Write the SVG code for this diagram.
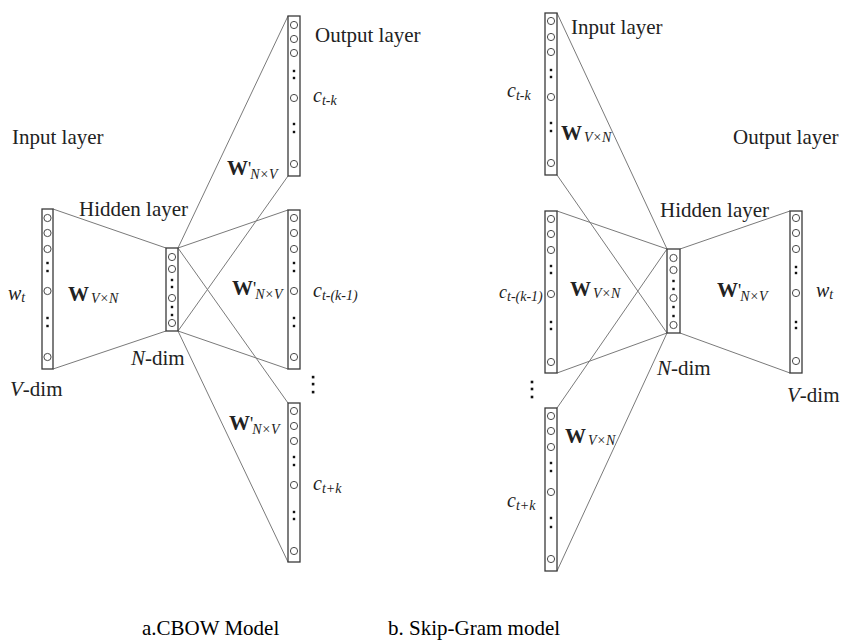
<svg xmlns="http://www.w3.org/2000/svg" width="844" height="643" viewBox="0 0 844 643">
<style>
.col{fill:#fff;stroke:#3a3a3a;stroke-width:1.3}
.nd{fill:#fff;stroke:#4a4a4a;stroke-width:1}
.dt{fill:#111}
.ln{stroke:#7a7a7a;stroke-width:1;fill:none}
.t{font-family:"Liberation Serif","Times New Roman",serif;font-size:21px;fill:#222}
.bw{font-weight:bold}
.it{font-style:italic}
.sub{font-style:italic;font-size:14px}
.cap{font-family:"Liberation Serif","Times New Roman",serif;font-size:21px;fill:#000}
</style>
<rect width="844" height="643" fill="#fff"/>
<g id="connectors">
<line class="ln" x1="53" y1="209" x2="166" y2="248"/>
<line class="ln" x1="53" y1="369" x2="166" y2="331"/>
<line class="ln" x1="178" y1="248" x2="288" y2="16"/>
<line class="ln" x1="178" y1="248" x2="288" y2="210"/>
<line class="ln" x1="178" y1="248" x2="288" y2="403"/>
<line class="ln" x1="178" y1="331" x2="288" y2="176"/>
<line class="ln" x1="178" y1="331" x2="288" y2="369"/>
<line class="ln" x1="178" y1="331" x2="288" y2="562"/>
<line class="ln" x1="557" y1="13" x2="667" y2="249"/>
<line class="ln" x1="557" y1="175" x2="667" y2="333"/>
<line class="ln" x1="557" y1="211" x2="667" y2="249"/>
<line class="ln" x1="557" y1="373" x2="667" y2="333"/>
<line class="ln" x1="557" y1="408" x2="667" y2="249"/>
<line class="ln" x1="557" y1="571" x2="667" y2="333"/>
<line class="ln" x1="680" y1="249" x2="790" y2="211"/>
<line class="ln" x1="680" y1="333" x2="790" y2="373"/>
</g>
<!-- CBOW -->
<g id="cbow-input">
<rect class="col" x="42" y="209" width="11" height="160"/>
<circle class="nd" cx="47.5" cy="218" r="3.6"/><circle class="nd" cx="47.5" cy="233" r="3.6"/><circle class="nd" cx="47.5" cy="249" r="3.6"/>
<rect class="dt" x="46.3" y="261.8" width="2.4" height="2.4"/><rect class="dt" x="46.3" y="269.8" width="2.4" height="2.4"/>
<circle class="nd" cx="47.5" cy="291" r="3.6"/>
<rect class="dt" x="46.3" y="316.8" width="2.4" height="2.4"/><rect class="dt" x="46.3" y="324.8" width="2.4" height="2.4"/>
<circle class="nd" cx="47.5" cy="357" r="3.6"/>
<text class="t" x="12" y="144">Input layer</text>
<text class="t" x="8" y="300"><tspan class="it" font-size="20">w</tspan><tspan class="sub" dy="2">t</tspan></text>
<text class="t" x="10" y="396"><tspan class="it">V</tspan>-dim</text>
<text class="t" x="68" y="301"><tspan class="bw">W</tspan><tspan class="sub" dx="2" dy="2">V×N</tspan></text>
</g>
<g id="cbow-hidden">
<rect class="col" x="166" y="248" width="12" height="83"/>
<circle class="nd" cx="172" cy="257" r="3.6"/><circle class="nd" cx="172" cy="269" r="3.6"/>
<rect class="dt" x="170.8" y="278.8" width="2.4" height="2.4"/><rect class="dt" x="170.8" y="285.8" width="2.4" height="2.4"/>
<circle class="nd" cx="172" cy="298" r="3.6"/>
<rect class="dt" x="170.8" y="305.8" width="2.4" height="2.4"/><rect class="dt" x="170.8" y="313.8" width="2.4" height="2.4"/>
<circle class="nd" cx="172" cy="323" r="3.6"/>
<text class="t" x="79" y="216">Hidden layer</text>
<text class="t" x="131" y="365"><tspan class="it">N</tspan>-dim</text>
</g>
<g id="cbow-output-1">
<rect class="col" x="288" y="16" width="12" height="160"/>
<circle class="nd" cx="294" cy="25" r="3.6"/><circle class="nd" cx="294" cy="39" r="3.6"/><circle class="nd" cx="294" cy="53" r="3.6"/>
<rect class="dt" x="292.8" y="69.8" width="2.4" height="2.4"/><rect class="dt" x="292.8" y="76.8" width="2.4" height="2.4"/>
<circle class="nd" cx="294" cy="98" r="3.6"/>
<rect class="dt" x="292.8" y="122.8" width="2.4" height="2.4"/><rect class="dt" x="292.8" y="130.8" width="2.4" height="2.4"/>
<circle class="nd" cx="294" cy="164" r="3.6"/>
<text class="t" x="315" y="42">Output layer</text>
<text class="t" x="313" y="102"><tspan class="it" font-size="20">c</tspan><tspan class="sub" dy="3">t-k</tspan></text>
<text class="t" x="227" y="175"><tspan class="bw">W</tspan><tspan font-size="18">'</tspan><tspan class="sub" dx="-1" dy="4">N×V</tspan></text>
</g>
<g id="cbow-output-2">
<rect class="col" x="288" y="210" width="12" height="159"/>
<circle class="nd" cx="294" cy="218" r="3.6"/><circle class="nd" cx="294" cy="233" r="3.6"/><circle class="nd" cx="294" cy="249" r="3.6"/>
<rect class="dt" x="292.8" y="261.8" width="2.4" height="2.4"/><rect class="dt" x="292.8" y="269.8" width="2.4" height="2.4"/>
<circle class="nd" cx="294" cy="291" r="3.6"/>
<rect class="dt" x="292.8" y="316.8" width="2.4" height="2.4"/><rect class="dt" x="292.8" y="324.8" width="2.4" height="2.4"/>
<circle class="nd" cx="294" cy="357" r="3.6"/>
<text class="t" x="313" y="297"><tspan class="it" font-size="20">c</tspan><tspan class="sub" dy="3">t-(k-1)</tspan></text>
<text class="t" x="232" y="295"><tspan class="bw">W</tspan><tspan font-size="18">'</tspan><tspan class="sub" dx="-1" dy="4">N×V</tspan></text>
</g>
<g id="cbow-ellipsis">
<rect class="dt" x="311.8" y="375.8" width="2.6" height="2.6"/><rect class="dt" x="311.8" y="382.8" width="2.6" height="2.6"/><rect class="dt" x="311.8" y="390.8" width="2.6" height="2.6"/>
</g>
<g id="cbow-output-3">
<rect class="col" x="288" y="403" width="12" height="159"/>
<circle class="nd" cx="294" cy="411" r="3.6"/><circle class="nd" cx="294" cy="426" r="3.6"/><circle class="nd" cx="294" cy="441" r="3.6"/>
<rect class="dt" x="292.8" y="455.8" width="2.4" height="2.4"/><rect class="dt" x="292.8" y="463.8" width="2.4" height="2.4"/>
<circle class="nd" cx="294" cy="485" r="3.6"/>
<rect class="dt" x="292.8" y="510.8" width="2.4" height="2.4"/><rect class="dt" x="292.8" y="517.8" width="2.4" height="2.4"/>
<circle class="nd" cx="294" cy="551" r="3.6"/>
<text class="t" x="313" y="490"><tspan class="it" font-size="20">c</tspan><tspan class="sub" dy="3">t+k</tspan></text>
<text class="t" x="229" y="430"><tspan class="bw">W</tspan><tspan font-size="18">'</tspan><tspan class="sub" dx="-1" dy="4">N×V</tspan></text>
</g>
<!-- Skip-gram -->
<g id="sg-input-1">
<rect class="col" x="545" y="13" width="12" height="162"/>
<circle class="nd" cx="551" cy="21" r="3.6"/><circle class="nd" cx="551" cy="37" r="3.6"/><circle class="nd" cx="551" cy="52" r="3.6"/>
<rect class="dt" x="549.8" y="68.8" width="2.4" height="2.4"/><rect class="dt" x="549.8" y="75.8" width="2.4" height="2.4"/>
<circle class="nd" cx="551" cy="97" r="3.6"/>
<rect class="dt" x="549.8" y="121.8" width="2.4" height="2.4"/><rect class="dt" x="549.8" y="129.8" width="2.4" height="2.4"/>
<circle class="nd" cx="551" cy="163" r="3.6"/>
<text class="t" x="571" y="34">Input layer</text>
<text class="t" x="507" y="97"><tspan class="it" font-size="20">c</tspan><tspan class="sub" dy="3">t-k</tspan></text>
<text class="t" x="561" y="140"><tspan class="bw">W</tspan><tspan class="sub" dx="2" dy="2">V×N</tspan></text>
</g>
<g id="sg-input-2">
<rect class="col" x="545" y="211" width="12" height="162"/>
<circle class="nd" cx="551" cy="219" r="3.6"/><circle class="nd" cx="551" cy="234" r="3.6"/><circle class="nd" cx="551" cy="250" r="3.6"/>
<rect class="dt" x="549.8" y="264.8" width="2.4" height="2.4"/><rect class="dt" x="549.8" y="271.8" width="2.4" height="2.4"/>
<circle class="nd" cx="551" cy="294" r="3.6"/>
<rect class="dt" x="549.8" y="320.8" width="2.4" height="2.4"/><rect class="dt" x="549.8" y="327.8" width="2.4" height="2.4"/>
<circle class="nd" cx="551" cy="362" r="3.6"/>
<text class="t" x="499" y="298"><tspan class="it" font-size="18">c</tspan><tspan class="sub" font-size="11.5" dy="3">t-(k-1)</tspan></text>
<text class="t" x="570" y="296"><tspan class="bw">W</tspan><tspan class="sub" dx="2" dy="2">V×N</tspan></text>
</g>
<g id="sg-ellipsis">
<rect class="dt" x="530.7" y="380.7" width="2.6" height="2.6"/><rect class="dt" x="530.7" y="387.7" width="2.6" height="2.6"/><rect class="dt" x="530.7" y="395.7" width="2.6" height="2.6"/>
</g>
<g id="sg-input-3">
<rect class="col" x="545" y="408" width="12" height="163"/>
<circle class="nd" cx="551" cy="416" r="3.6"/><circle class="nd" cx="551" cy="431" r="3.6"/><circle class="nd" cx="551" cy="447" r="3.6"/>
<rect class="dt" x="549.8" y="461.8" width="2.4" height="2.4"/><rect class="dt" x="549.8" y="469.8" width="2.4" height="2.4"/>
<circle class="nd" cx="551" cy="492" r="3.6"/>
<rect class="dt" x="549.8" y="516.8" width="2.4" height="2.4"/><rect class="dt" x="549.8" y="525.8" width="2.4" height="2.4"/>
<circle class="nd" cx="551" cy="559" r="3.6"/>
<text class="t" x="507" y="507"><tspan class="it" font-size="20">c</tspan><tspan class="sub" dy="3">t+k</tspan></text>
<text class="t" x="565" y="443"><tspan class="bw">W</tspan><tspan class="sub" dx="2" dy="2">V×N</tspan></text>
</g>
<g id="sg-hidden">
<rect class="col" x="667" y="249" width="13" height="84"/>
<circle class="nd" cx="673.5" cy="258" r="3.6"/><circle class="nd" cx="673.5" cy="270" r="3.6"/>
<rect class="dt" x="672.3" y="279.8" width="2.4" height="2.4"/><rect class="dt" x="672.3" y="287.8" width="2.4" height="2.4"/>
<circle class="nd" cx="673.5" cy="298" r="3.6"/>
<rect class="dt" x="672.3" y="305.8" width="2.4" height="2.4"/><rect class="dt" x="672.3" y="314.8" width="2.4" height="2.4"/>
<circle class="nd" cx="673.5" cy="325" r="3.6"/>
<text class="t" x="660" y="217">Hidden layer</text>
<text class="t" x="657" y="375"><tspan class="it">N</tspan>-dim</text>
</g>
<g id="sg-output">
<rect class="col" x="790" y="211" width="12" height="162"/>
<circle class="nd" cx="796" cy="218" r="3.6"/><circle class="nd" cx="796" cy="233" r="3.6"/><circle class="nd" cx="796" cy="249" r="3.6"/>
<rect class="dt" x="794.8" y="265.8" width="2.4" height="2.4"/><rect class="dt" x="794.8" y="271.8" width="2.4" height="2.4"/>
<circle class="nd" cx="796" cy="293" r="3.6"/>
<rect class="dt" x="794.8" y="320.8" width="2.4" height="2.4"/><rect class="dt" x="794.8" y="326.8" width="2.4" height="2.4"/>
<circle class="nd" cx="796" cy="361" r="3.6"/>
<text class="t" x="733" y="144">Output layer</text>
<text class="t" x="816" y="297"><tspan class="it" font-size="20">w</tspan><tspan class="sub" dy="2">t</tspan></text>
<text class="t" x="787" y="402"><tspan class="it">V</tspan>-dim</text>
<text class="t" x="717" y="297"><tspan class="bw">W</tspan><tspan font-size="18">'</tspan><tspan class="sub" dx="-1" dy="4">N×V</tspan></text>
</g>
<g id="captions">
<text class="cap" x="142" y="635">a.CBOW Model</text>
<text class="cap" x="388" y="635">b. Skip-Gram model</text>
</g>
</svg>
